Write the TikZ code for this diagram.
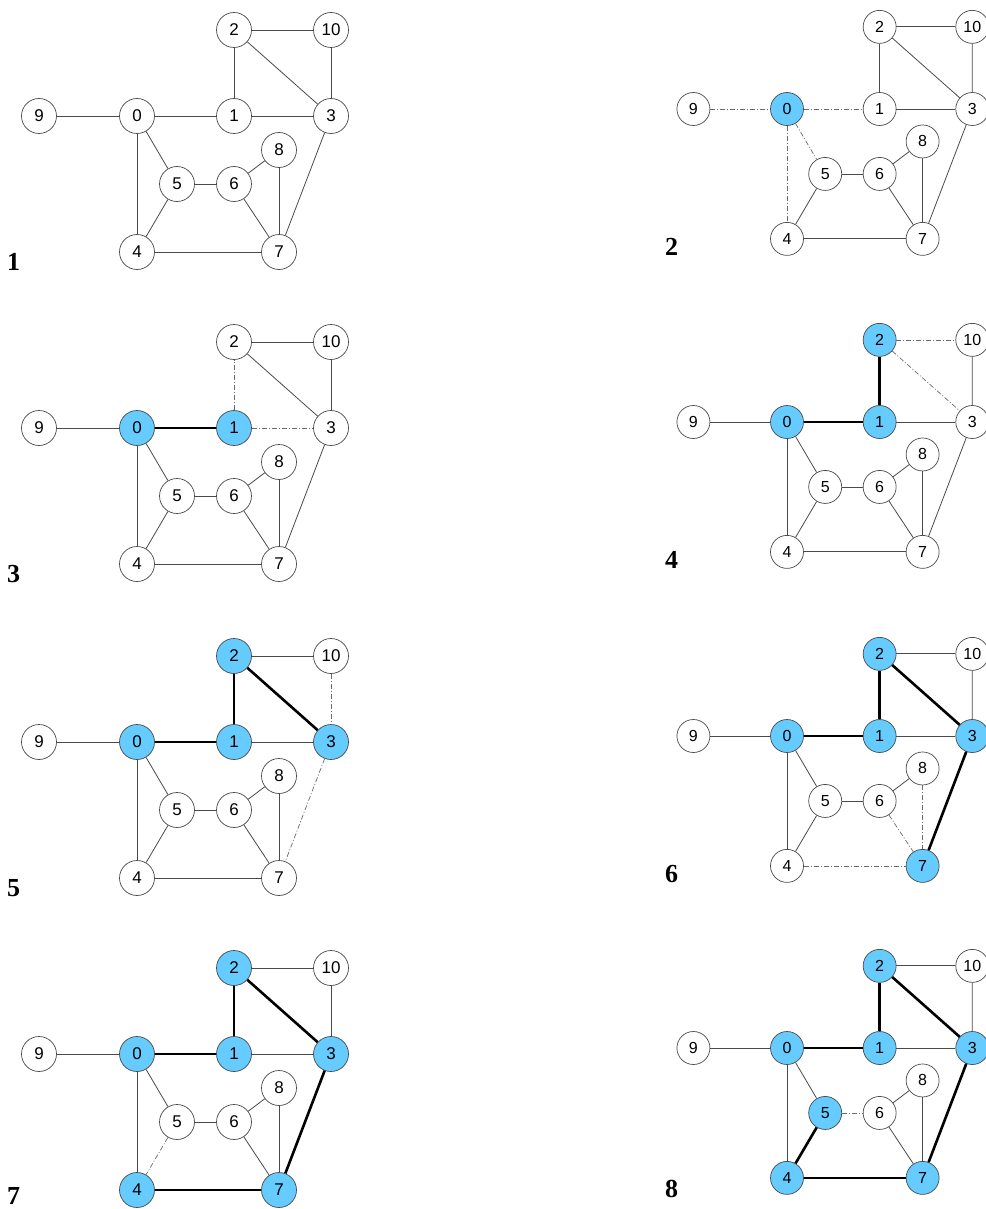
\documentclass[tikz,border=0pt]{standalone}
\usepackage{fontspec}
\setmainfont{Liberation Serif}
\newfontfamily\arialf{Liberation Sans}
\definecolor{visblue}{HTML}{66CCFF}
\definecolor{edgegray}{HTML}{4A4A4A}
\definecolor{dashgray}{HTML}{6A6A6A}
\tikzset{
 vtx/.style={circle, draw=edgegray, line width=0.7pt, fill=white, inner sep=0pt},
 lvtx/.style={vtx, minimum size=35pt, font=\arialf\fontsize{17}{18}\selectfont},
 rvtx/.style={vtx, minimum size=33pt, font=\arialf\fontsize{16}{18}\selectfont},
 visited/.style={fill=visblue},
 ethin/.style={draw=edgegray, line width=0.8pt},
 ethick/.style={draw=black, line width=2.6pt},
 edash/.style={draw=dashgray, line width=0.7pt, dash pattern=on 5pt off 2pt on 1pt off 2pt},
 plabel/.style={font=\fontsize{26}{28}\selectfont\bfseries, anchor=base west, inner sep=0pt},
 v0/.style={}, v1/.style={}, v2/.style={}, v3/.style={}, v4/.style={}, v5/.style={},
 v6/.style={}, v7/.style={}, v8/.style={}, v9/.style={}, v10/.style={},
 s9-0/.style={}, s0-1/.style={}, s1-3/.style={}, s1-2/.style={}, s2-10/.style={},
 s2-3/.style={}, s10-3/.style={}, s3-7/.style={}, s0-5/.style={}, s0-4/.style={},
 s5-4/.style={}, s5-6/.style={}, s6-8/.style={}, s6-7/.style={}, s8-7/.style={},
 s4-7/.style={},
}
\newcommand\dfspanel[5]{%
 \begin{scope}[shift={(#2,#3)}, scale=#4]
  \foreach \n/\x/\y in {0/0/0,1/97/0,2/97/-86,3/194/0,4/0/136,5/40/68,6/97/68,7/142/136,8/142/34,9/-98/0,10/194/-86}{%
   \edef\tmp{\noexpand\node[#5, v\n] (#1-\n) at (\x,\y) {\n};}\tmp}
  \foreach \a/\b in {9/0,0/1,1/3,1/2,2/10,2/3,10/3,3/7,0/5,0/4,5/4,5/6,6/8,6/7,8/7,4/7}{%
   \edef\tmp{\noexpand\draw[ethin, s\a-\b] (#1-\a) -- (#1-\b);}\tmp}
 \end{scope}}
\begin{document}
\begin{tikzpicture}[x=1pt, y=-1pt]
\useasboundingbox[fill=white] (0,0) rectangle (985,1209);
% panel 1
\begin{scope}
 \dfspanel{pa}{137}{116}{1}{lvtx}
\end{scope}
\node[plabel] (la) at (7,270) {1};
% panel 2
\begin{scope}[v0/.style=visited, s9-0/.style=edash, s0-1/.style=edash, s0-5/.style=edash, s0-4/.style=edash]
 \dfspanel{pb}{787}{109}{0.955}{rvtx}
\end{scope}
\node[plabel] (lb) at (665,255) {2};
% panel 3
\begin{scope}[v0/.style=visited, v1/.style=visited, s0-1/.style=ethick, s1-2/.style=edash, s1-3/.style=edash]
 \dfspanel{pc}{137}{428}{1}{lvtx}
\end{scope}
\node[plabel] (lc) at (7,582) {3};
% panel 4
\begin{scope}[v0/.style=visited, v1/.style=visited, v2/.style=visited, s0-1/.style=ethick, s1-2/.style=ethick, s2-10/.style=edash, s2-3/.style=edash]
 \dfspanel{pd}{787}{422}{0.955}{rvtx}
\end{scope}
\node[plabel] (ld) at (665,568) {4};
% panel 5
\begin{scope}[v0/.style=visited, v1/.style=visited, v2/.style=visited, v3/.style=visited, s0-1/.style=ethick, s1-2/.style=ethick, s2-3/.style=ethick, s10-3/.style=edash, s3-7/.style=edash]
 \dfspanel{pe}{137}{742}{1}{lvtx}
\end{scope}
\node[plabel] (le) at (7,896) {5};
% panel 6
\begin{scope}[v0/.style=visited, v1/.style=visited, v2/.style=visited, v3/.style=visited, v7/.style=visited, s0-1/.style=ethick, s1-2/.style=ethick, s2-3/.style=ethick, s3-7/.style=ethick, s4-7/.style=edash, s6-7/.style=edash, s8-7/.style=edash]
 \dfspanel{pf}{787}{736}{0.955}{rvtx}
\end{scope}
\node[plabel] (lf) at (665,882) {6};
% panel 7
\begin{scope}[v0/.style=visited, v1/.style=visited, v2/.style=visited, v3/.style=visited, v7/.style=visited, v4/.style=visited, s0-1/.style=ethick, s1-2/.style=ethick, s2-3/.style=ethick, s3-7/.style=ethick, s4-7/.style=ethick, s5-4/.style=edash]
 \dfspanel{pg}{137}{1054}{1}{lvtx}
\end{scope}
\node[plabel] (lg) at (7,1204) {7};
% panel 8
\begin{scope}[v0/.style=visited, v1/.style=visited, v2/.style=visited, v3/.style=visited, v7/.style=visited, v4/.style=visited, v5/.style=visited, s0-1/.style=ethick, s1-2/.style=ethick, s2-3/.style=ethick, s3-7/.style=ethick, s4-7/.style=ethick, s5-4/.style=ethick, s5-6/.style=edash]
 \dfspanel{ph}{787}{1048}{0.955}{rvtx}
\end{scope}
\node[plabel] (lh) at (665,1197) {8};
\end{tikzpicture}
\end{document}
